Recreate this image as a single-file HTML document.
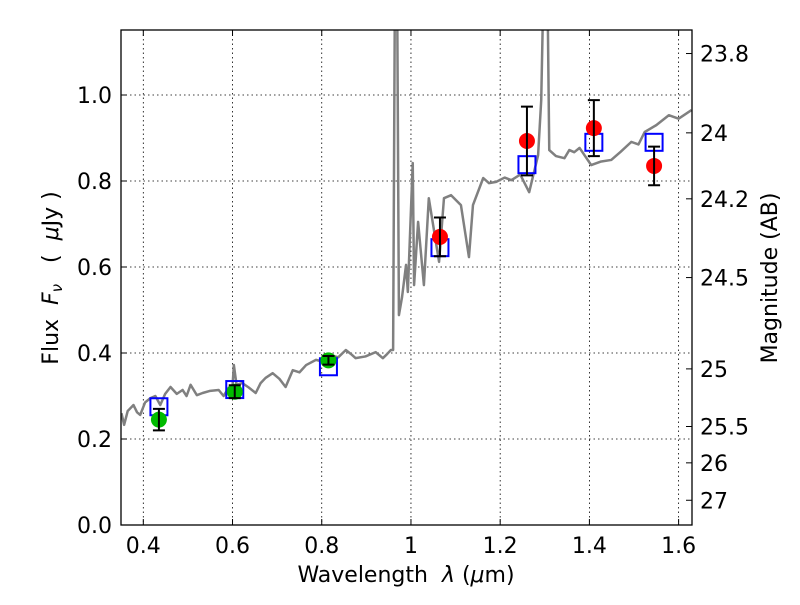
<!DOCTYPE html>
<html><head><meta charset="utf-8"><style>
body{margin:0;background:#fff}
svg{font-family:"DejaVu Sans","Liberation Sans",sans-serif}
</style></head><body>
<svg id="c" width="800" height="600" viewBox="0 0 800 600" xmlns="http://www.w3.org/2000/svg">
<defs><clipPath id="pc"><rect x="121" y="30" width="571" height="495"/></clipPath></defs>
<rect width="800" height="600" fill="#fff"/>
<g id="grid"></g>
<g id="plot" clip-path="url(#pc)"></g>
<rect x="121" y="30" width="571" height="495" fill="none" stroke="#000" stroke-width="1.3"/>
<g id="axes"></g>
<text x="406" y="582" font-size="22" text-anchor="middle" xml:space="preserve">Wavelength  <tspan font-style="italic">λ</tspan> (<tspan font-style="italic">μ</tspan>m)</text>
<text transform="translate(58,278) rotate(-90)" font-size="22" text-anchor="middle" xml:space="preserve">Flux  <tspan font-style="italic">F</tspan><tspan font-style="italic" font-size="15" dy="4">ν</tspan><tspan dy="-4">   (  </tspan><tspan font-style="italic">μ</tspan>Jy )</text>
<text transform="translate(777,278) rotate(-90)" font-size="22" text-anchor="middle">Magnitude (AB)</text>
</svg>
<script>
const specW=[0.351,0.357,0.365,0.378,0.386,0.393,0.404,0.416,0.427,0.438,0.449,0.461,0.475,0.488,0.497,0.506,0.520,0.533,0.550,0.569,0.580,0.591,0.600,0.603,0.609,0.622,0.636,0.652,0.663,0.674,0.690,0.705,0.719,0.735,0.750,0.765,0.787,0.803,0.820,0.837,0.854,0.865,0.876,0.898,0.921,0.937,0.946,0.955,0.960,0.964,0.969,0.973,0.980,0.989,0.993,1.004,1.007,1.016,1.029,1.040,1.063,1.074,1.090,1.112,1.130,1.139,1.162,1.175,1.191,1.210,1.225,1.245,1.265,1.285,1.292,1.297,1.306,1.310,1.325,1.344,1.355,1.366,1.378,1.404,1.425,1.449,1.470,1.494,1.510,1.524,1.550,1.578,1.600,1.629];
const specF=[0.260,0.233,0.265,0.279,0.262,0.256,0.285,0.295,0.300,0.279,0.305,0.321,0.305,0.314,0.300,0.326,0.302,0.307,0.312,0.314,0.300,0.319,0.323,0.372,0.326,0.330,0.320,0.307,0.330,0.342,0.353,0.340,0.321,0.360,0.355,0.372,0.384,0.380,0.395,0.390,0.407,0.398,0.388,0.392,0.402,0.388,0.397,0.407,0.407,1.25,1.25,0.488,0.530,0.605,0.542,0.842,0.558,0.705,0.558,0.760,0.612,0.760,0.767,0.744,0.623,0.744,0.807,0.795,0.798,0.808,0.802,0.815,0.774,0.860,0.988,1.25,1.25,0.872,0.858,0.853,0.872,0.867,0.877,0.837,0.845,0.849,0.868,0.891,0.885,0.914,0.930,0.953,0.945,0.965];
const greenW=[0.435,0.605,0.815];
const greenF=[0.245,0.310,0.383];
const greenE=[0.025,0.015,0.010];
const redW=[1.065,1.26,1.41,1.545];
const redF=[0.670,0.893,0.923,0.835];
const redE=[0.045,0.080,0.065,0.045];
const modelW=[0.435,0.605,0.815,1.065,1.26,1.41,1.545];
const modelF=[0.275,0.315,0.368,0.645,0.838,0.890,0.890];
const xTicks=[0.4,0.6,0.8,1.0,1.2,1.4,1.6];
const xLabels=["0.4","0.6","0.8","1","1.2","1.4","1.6"];
const yTicks=[0,0.2,0.4,0.6,0.8,1.0];
const yLabels=["0.0","0.2","0.4","0.6","0.8","1.0"];
const magTicks=[23.8,24,24.2,24.5,25,25.5,26,27];
const magLabels=["23.8","24","24.2","24.5","25","25.5","26","27"];

const X0=0.35,X1=1.63,Y0=0,Y1=1.1512;
const L=121,R=692,T=30,B=525;
const sx=w=>L+(w-X0)/(X1-X0)*(R-L);
const sy=f=>B-(f-Y0)/(Y1-Y0)*(B-T);
const NS="http://www.w3.org/2000/svg";
function mk(p,tag,a){const e=document.createElementNS(NS,tag);for(const k in a)e.setAttribute(k,a[k]);p.appendChild(e);return e;}
const grid=document.getElementById('grid'),plot=document.getElementById('plot'),axes=document.getElementById('axes');

xTicks.forEach((t,i)=>{const x=sx(t);
 const g=mk(grid,'line',{x1:x,x2:x,y1:T,y2:B,stroke:'#000','stroke-width':0.8,'stroke-dasharray':'1.5,3'});
 
 mk(axes,'line',{x1:x,x2:x,y1:B,y2:B-6,stroke:'#000'});mk(axes,'line',{x1:x,x2:x,y1:T,y2:T+6,stroke:'#000'});
 const tx=mk(axes,'text',{x:x,y:B+28,'font-size':22,'text-anchor':'middle'});tx.textContent=xLabels[i];
 });
yTicks.forEach((t,i)=>{const y=sy(t);
 const g=mk(grid,'line',{x1:L,x2:R,y1:y,y2:y,stroke:'#000','stroke-width':0.8,'stroke-dasharray':'1.5,3'});
 
 mk(axes,'line',{x1:L,x2:L+6,y1:y,y2:y,stroke:'#000'});
 const tx=mk(axes,'text',{x:L-9,y:y+8,'font-size':22,'text-anchor':'end'});tx.textContent=yLabels[i];
 });
magTicks.forEach((m,i)=>{const y=sy(Math.pow(10,(23.9-m)/2.5));
 mk(axes,'line',{x1:R,x2:R-6,y1:y,y2:y,stroke:'#000'});
 const tx=mk(axes,'text',{x:R+8,y:y+8,'font-size':22});tx.textContent=magLabels[i];
 });

const sp=mk(plot,'polyline',{points:specW.map((w,i)=>sx(w)+','+sy(specF[i])).join(' '),fill:'none',stroke:'#808080','stroke-width':2.5,'stroke-linejoin':'round'});


modelW.forEach((w,i)=>{const s=mk(plot,'rect',{x:sx(w)-8.5,y:sy(modelF[i])-8.5,width:17,height:17,fill:'none',stroke:'#0000ff','stroke-width':2});
 });
function pts(W,F,E,col,nm){W.forEach((w,i)=>{const x=sx(w);
 const c=mk(plot,'circle',{cx:x,cy:sy(F[i]),r:8,fill:col});
 
 const y1=sy(F[i]-E[i]),y2=sy(F[i]+E[i]);
 const eb=mk(plot,'path',{d:`M${x},${y1}V${y2}M${x-6},${y1}H${x+6}M${x-6},${y2}H${x+6}`,stroke:'#000','stroke-width':2,fill:'none'});
 });}
pts(greenW,greenF,greenE,'#00bb00','optical-flux-point');
pts(redW,redF,redE,'#ff0000','nir-flux-point');
</script>
</body></html>
